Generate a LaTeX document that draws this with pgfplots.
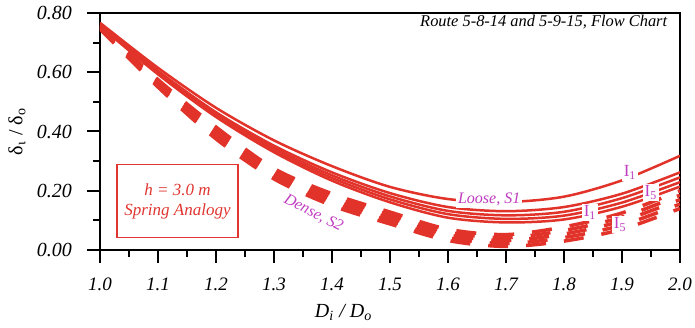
\documentclass[border=0pt]{standalone}
\usepackage{fontspec}
\setmainfont{Liberation Serif}
\usepackage{pgfplots}
\pgfplotsset{compat=1.18}
\definecolor{lred}{HTML}{E2332A}
\definecolor{lmag}{HTML}{C03CC0}
\definecolor{bred}{HTML}{E03530}
\begin{document}
\begin{tikzpicture}
\begin{axis}[
  scale only axis, width=290pt, height=118.5pt,
  xmin=1, xmax=2, ymin=0, ymax=0.8,
  xtick={1,1.1,1.2,1.3,1.4,1.5,1.6,1.7,1.8,1.9,2},
  ytick={0,0.2,0.4,0.6,0.8},
  minor x tick num=1, minor y tick num=1,
  tick align=outside, tick pos=left,
  major tick length=6.5pt, minor tick length=3.5pt,
  every tick/.style={black, line width=1pt},
  axis line style={black, line width=1pt},
  xticklabel={\pgfmathprintnumber[fixed,fixed zerofill,precision=1,assume math mode=true]{\tick}},
  yticklabel={\pgfmathprintnumber[fixed,fixed zerofill,precision=2,assume math mode=true]{\tick}},
  xticklabel style={font=\fontsize{9.5}{11}\selectfont\itshape, yshift=-4pt},
  yticklabel style={font=\fontsize{10}{12}\selectfont\itshape, xshift=-4pt},
  xlabel={\itshape D\textsubscript{i} / D\textsubscript{o}},
  xlabel style={font=\fontsize{10}{12}\selectfont, at={(axis description cs:0.42,-0.262)}, anchor=center},
  ylabel={δ\textsubscript{ι} / δ\textsubscript{ο}},
  ylabel style={font=\fontsize{10}{12}\selectfont, at={(axis description cs:-0.143,0.5)}, anchor=center},
  clip mode=individual,
]
% Loose, S1 (solid) I1..I5
\addplot[lred, line width=1.25pt, smooth] coordinates {(1.0,0.767)(1.1,0.615)(1.2,0.48)(1.3,0.37)(1.4,0.283)(1.5,0.213)(1.6,0.172)(1.7,0.162)(1.8,0.18)(1.9,0.235)(2.0,0.318)};
\addplot[lred, line width=1.25pt, smooth] coordinates {(1.0,0.762)(1.1,0.605)(1.2,0.465)(1.3,0.352)(1.4,0.262)(1.5,0.192)(1.6,0.145)(1.7,0.131)(1.8,0.145)(1.9,0.19)(2.0,0.262)};
\addplot[lred, line width=1.25pt, smooth] coordinates {(1.0,0.760)(1.1,0.601)(1.2,0.459)(1.3,0.344)(1.4,0.252)(1.5,0.181)(1.6,0.132)(1.7,0.117)(1.8,0.129)(1.9,0.175)(2.0,0.245)};
\addplot[lred, line width=1.25pt, smooth] coordinates {(1.0,0.758)(1.1,0.597)(1.2,0.454)(1.3,0.337)(1.4,0.243)(1.5,0.171)(1.6,0.121)(1.7,0.105)(1.8,0.116)(1.9,0.16)(2.0,0.229)};
\addplot[lred, line width=1.25pt, smooth] coordinates {(1.0,0.756)(1.1,0.593)(1.2,0.449)(1.3,0.33)(1.4,0.234)(1.5,0.161)(1.6,0.109)(1.7,0.093)(1.8,0.103)(1.9,0.146)(2.0,0.214)};
% Dense, S2 (dashed) I1..I5
\addplot[lred, line width=1.75pt, smooth, dash pattern=on 10pt off 9pt] coordinates {(1.0,0.754)(1.1,0.575)(1.2,0.415)(1.3,0.275)(1.4,0.19)(1.5,0.128)(1.6,0.07)(1.7,0.052)(1.8,0.078)(1.9,0.125)(2.0,0.20)};
\addplot[lred, line width=1.75pt, smooth, dash pattern=on 10pt off 9pt] coordinates {(1.0,0.752)(1.1,0.569)(1.2,0.405)(1.3,0.266)(1.4,0.18)(1.5,0.118)(1.6,0.06)(1.7,0.042)(1.8,0.066)(1.9,0.111)(2.0,0.185)};
\addplot[lred, line width=1.75pt, smooth, dash pattern=on 10pt off 9pt] coordinates {(1.0,0.750)(1.1,0.563)(1.2,0.395)(1.3,0.258)(1.4,0.17)(1.5,0.108)(1.6,0.051)(1.7,0.032)(1.8,0.054)(1.9,0.098)(2.0,0.17)};
\addplot[lred, line width=1.75pt, smooth, dash pattern=on 10pt off 9pt] coordinates {(1.0,0.748)(1.1,0.556)(1.2,0.385)(1.3,0.249)(1.4,0.16)(1.5,0.098)(1.6,0.041)(1.7,0.022)(1.8,0.042)(1.9,0.084)(2.0,0.155)};
\addplot[lred, line width=1.75pt, smooth, dash pattern=on 10pt off 9pt] coordinates {(1.0,0.746)(1.1,0.55)(1.2,0.375)(1.3,0.24)(1.4,0.15)(1.5,0.088)(1.6,0.032)(1.7,0.012)(1.8,0.03)(1.9,0.07)(2.0,0.14)};
% annotations
\node[anchor=east, font=\fontsize{8.2}{9}\selectfont\itshape] at (axis cs:1.99,0.768) {Route 5-8-14 and 5-9-15, Flow Chart};
\node[draw=bred, line width=0.6pt, minimum width=60.5pt, minimum height=36.5pt, text=bred, align=center, font=\fontsize{8.5}{10}\selectfont\itshape] at (axis cs:1.1335,0.1655) {h = 3.0 m\\Spring Analogy};
\node[fill=white, inner sep=1pt, text=lmag, font=\fontsize{8}{9}\selectfont\itshape] at (axis cs:1.671,0.172) {Loose, S1};
\node[inner sep=0pt, text=lmag, font=\fontsize{8}{9}\selectfont\itshape, rotate=-27] at (axis cs:1.368,0.124) {Dense, S2};
\node[fill=white, inner sep=1pt, text=lmag, font=\fontsize{8.5}{9}\selectfont] at (axis cs:1.914,0.262) {I\textsubscript{1}};
\node[fill=white, inner sep=1pt, text=lmag, font=\fontsize{8.5}{9}\selectfont] at (axis cs:1.95,0.194) {I\textsubscript{5}};
\node[fill=white, inner sep=1pt, text=lmag, font=\fontsize{8.5}{9}\selectfont] at (axis cs:1.845,0.127) {I\textsubscript{1}};
\node[fill=white, inner sep=1pt, text=lmag, font=\fontsize{8.5}{9}\selectfont] at (axis cs:1.897,0.086) {I\textsubscript{5}};
\end{axis}
\path (current axis.south west) ++(-50pt,-39pt) coordinate (bl);
\path (current axis.north east) ++(7.5pt,6.5pt) coordinate (tr);
\pgfresetboundingbox
\path[use as bounding box] (bl) rectangle (tr);
\end{tikzpicture}
\end{document}
